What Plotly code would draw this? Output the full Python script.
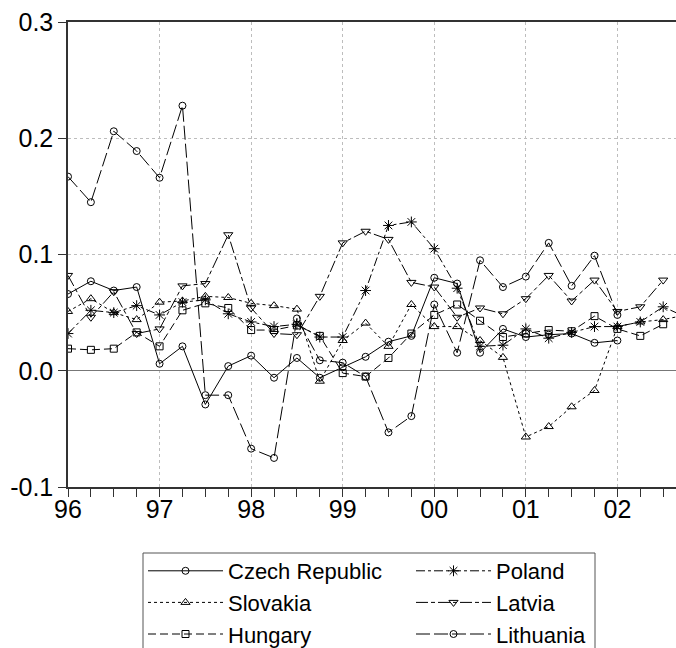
import plotly.graph_objects as go

periods = [f"{y}Q{q}" for y in range(1996, 2003) for q in range(1, 5)]
xpos = [int(p[:4]) + (int(p[-1]) - 1) / 4 for p in periods]

czech = [0.066, 0.077, 0.069, 0.072, 0.006, 0.021, -0.029, 0.004,
         0.013, -0.006, 0.011, -0.006, 0.003, 0.012, 0.025, 0.030,
         0.080, 0.075, 0.0155, 0.036, 0.029, 0.031, 0.032, 0.024,
         0.026, None, None, None]
poland = [0.032, 0.052, 0.050, 0.056, 0.048, 0.059, 0.061, 0.049,
          0.042, 0.038, 0.040, 0.029, 0.029, 0.069, 0.125, 0.128,
          0.105, 0.071, 0.021, 0.022, 0.036, 0.028, 0.033, 0.038,
          0.038, 0.042, 0.055, 0.046]
slovakia = [0.051, 0.062, 0.050, 0.044, 0.059, 0.060, 0.064, 0.063,
            0.058, 0.056, 0.053, -0.009, 0.026, 0.041, 0.021, 0.057,
            0.038, 0.038, 0.026, 0.0115, -0.057, -0.048, -0.031, -0.017,
            0.038, 0.042, 0.044, 0.048]
latvia = [0.082, 0.046, 0.068, 0.032, 0.036, 0.073, 0.075, 0.117,
          0.054, 0.032, 0.031, 0.064, 0.110, 0.120, 0.113, 0.076,
          0.072, 0.046, 0.054, 0.049, 0.062, 0.082, 0.060, 0.078,
          0.051, 0.055, 0.078, None]
hungary = [0.019, 0.018, 0.019, 0.033, 0.021, 0.052, 0.058, 0.054,
           0.035, 0.035, 0.039, 0.030, -0.002, -0.005, 0.011, 0.032,
           0.048, 0.057, 0.043, 0.029, 0.032, 0.035, 0.034, 0.047,
           0.036, 0.030, 0.040, None]
lithuania = [0.167, 0.145, 0.206, 0.189, 0.166, 0.228, -0.021, -0.021,
             -0.067, -0.075, 0.045, 0.009, 0.007, -0.005, -0.053, -0.039,
             0.057, 0.0155, 0.095, 0.072, 0.081, 0.110, 0.073, 0.099,
             0.048, None, None, None]

year_ticks = [1996, 1997, 1998, 1999, 2000, 2001, 2002]
year_labels = ["96", "97", "98", "99", "00", "01", "02"]
y_ticks = [-0.1, 0.0, 0.1, 0.2, 0.3]
y_labels = ["-0.1", "0.0", "0.1", "0.2", "0.3"]

# name, values, dash, symbol, size, legend column
series = [
    ("Czech Republic", czech, "solid", "circle-open", 7, "legend"),
    ("Slovakia", slovakia, "3px,3px", "triangle-up-open", 8, "legend"),
    ("Hungary", hungary, "8px,4px", "square-open", 7, "legend"),
    ("Poland", poland, "9px,3px,3px,3px", "asterisk-open", 9, "legend2"),
    ("Latvia", latvia, "12px,3px,4px,3px", "triangle-down-open", 8, "legend2"),
    ("Lithuania", lithuania, "14px,4px", "circle-open", 7, "legend2"),
]

fig = go.Figure()
for name, vals, dash, sym, sz, leg in series:
    fig.add_trace(go.Scatter(
        x=xpos, y=vals, name=name, mode="lines+markers",
        line=dict(color="black", width=1, dash=dash),
        marker=dict(symbol=sym, size=sz, color="black",
                    line=dict(color="black", width=1)),
        connectgaps=False, legend=leg,
    ))

font = "Liberation Sans, Arial, sans-serif"
W, H = 676, 648
# plot area: x 68..676 px, y 22..487 px
def px_x(px):
    return (px - 68) / 608

def px_y(py):
    return (487 - py) / 465

leg_common = dict(
    orientation="v", xref="paper", yref="container",
    xanchor="left", yanchor="top",
    borderwidth=0, bgcolor="rgba(0,0,0,0)",
    font=dict(family=font, size=22, color="black"),
    itemwidth=75, tracegroupgap=0,
)

fig.update_layout(
    width=W, height=H,
    margin=dict(l=68, r=0, t=22, b=161, autoexpand=False),
    paper_bgcolor="white", plot_bgcolor="white",
    font=dict(family=font, size=25, color="black"),
    showlegend=True,
    legend=dict(x=px_x(143), y=1 - 550 / H, **leg_common),
    legend2=dict(x=px_x(411), y=1 - 550 / H, **leg_common),
    shapes=[dict(type="rect", xref="paper", yref="paper",
                 x0=px_x(143), x1=px_x(595), y0=px_y(553), y1=px_y(700),
                 line=dict(color="#555555", width=1), fillcolor="rgba(0,0,0,0)",
                 layer="below")],
    xaxis=dict(
        range=[1996, 2002.64], tickvals=year_ticks, ticktext=year_labels,
        ticks="outside", ticklen=8, tickcolor="#333333",
        ticklabelstandoff=-9,
        showline=True, mirror=True, linecolor="#333333", linewidth=1.5,
        showgrid=True, gridcolor="#bdbdbd", griddash="3px,3px", gridwidth=1,
        zeroline=False,
        minor=dict(dtick=0.25, tick0=1996, ticks="outside", ticklen=8,
                   tickcolor="#333333", showgrid=False),
    ),
    yaxis=dict(
        range=[-0.1, 0.3], tickvals=y_ticks, ticktext=y_labels,
        ticks="outside", ticklen=8, tickcolor="#333333",
        showline=True, mirror=False, linecolor="#333333", linewidth=1.5,
        showgrid=True, gridcolor="#bdbdbd", griddash="3px,3px", gridwidth=1,
        zeroline=True, zerolinecolor="#777777", zerolinewidth=1.2,
    ),
)

fig.write_html("out.html")
